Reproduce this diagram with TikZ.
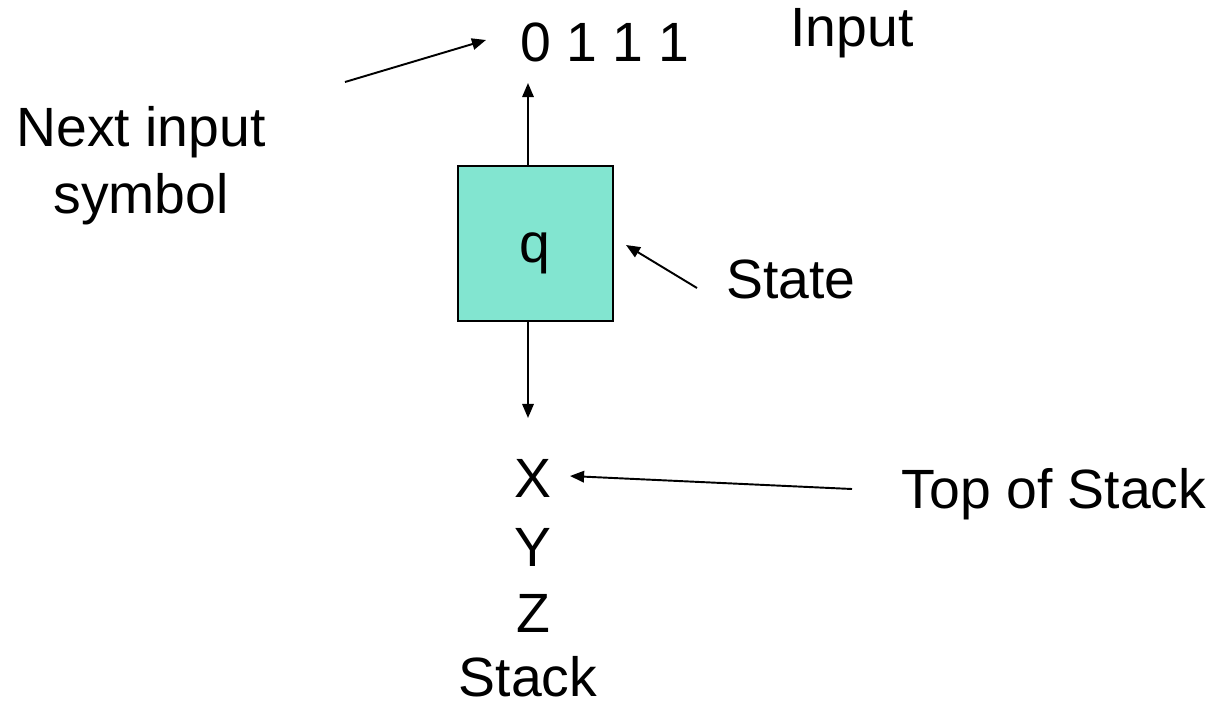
\documentclass[tikz,border=0pt]{standalone}
\usepackage{fontspec}
\setmainfont{Liberation Sans}
\usetikzlibrary{arrows.meta}
\definecolor{stategreen}{HTML}{82E5D0}

\begin{document}
\begin{tikzpicture}[x=0.02cm,y=-0.02cm,font=\fontsize{31.5}{38}\selectfont,
  arr/.style={-{Triangle[length=8pt,width=6.5pt]},line width=1.1pt}]
\useasboundingbox (0,0) rectangle (1213,707);
% control box
\node[draw,fill=stategreen,line width=1.1pt,minimum size=3.1cm,inner sep=0pt] (q) at (535.5,243.5) {};
\node (qlabel) at (535,253) {q};
% input tape
\node (tape) at (605,42) {0 1 1 1};
\node (input) at (852,33) {Input};
\node[align=center] (nextsym) at (141,166) {Next input\\symbol};
\node (state) at (791,279) {State};
\node[anchor=base] (topstk) at (1054,508) {Top of Stack};
% stack contents
\node (sx) at (533,478) {X};
\node (sy) at (533,547) {Y};
\node (sz) at (533,613) {Z};
\node[inner sep=0pt] (stack) at (528,677) {Stack};
% arrow ends
\coordinate (nextfrom) at (345,82);
\coordinate (nexthead) at (486,40);
\coordinate (inhead) at (528,83);
\coordinate (stkhead) at (528,418);
\coordinate (statefrom) at (697,288);
\coordinate (statehead) at (626,245);
\coordinate (topfrom) at (852,489);
\coordinate (tophead) at (570,476);
\draw[arr] (nextfrom) -- (nexthead);
\draw[arr] (q.north -| inhead) -- (inhead);
\draw[arr] (q.south -| stkhead) -- (stkhead);
\draw[arr] (statefrom) -- (statehead);
\draw[arr] (topfrom) -- (tophead);
\end{tikzpicture}
\end{document}
